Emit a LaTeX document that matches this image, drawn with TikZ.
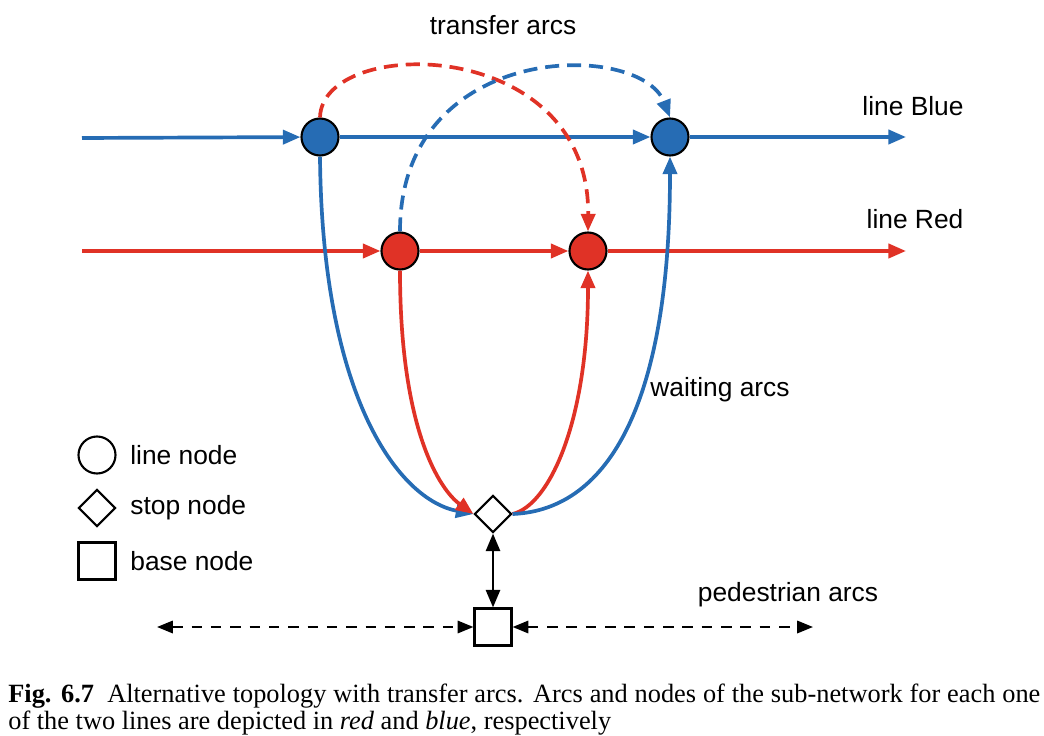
\documentclass[tikz,border=0pt]{standalone}
\usepackage{fontspec}
\setmainfont{Liberation Serif}
\setsansfont{Liberation Sans}
\usetikzlibrary{arrows.meta,shapes.geometric}

\definecolor{lineblue}{RGB}{38,108,180}
\definecolor{linered}{RGB}{224,50,38}

\tikzset{
  arc/.style={line width=2.1pt, -{Triangle[length=10pt,width=8pt]}},
  linenode/.style={circle, draw=black, line width=1.2pt, minimum size=37\pxu, inner sep=0pt},
  stopnode/.style={diamond, draw=black, line width=1.2pt, fill=white, minimum size=37\pxu, inner sep=0pt},
  basenode/.style={rectangle, draw=black, line width=1.2pt, fill=white, minimum size=37\pxu, inner sep=0pt},
  label/.style={font=\sffamily\fontsize{15}{18}\selectfont, inner sep=0pt}
}
\newcommand{\pxu}{*0.02cm}

\begin{document}
\begin{tikzpicture}[x=0.02cm, y=-0.02cm]
    \useasboundingbox (0,0) rectangle (1044,736);

    % line nodes
    \node[linenode, fill=lineblue] (b1) at (320,137) {};
    \node[linenode, fill=lineblue] (b2) at (670,137) {};
    \node[linenode, fill=linered] (r1) at (400,251) {};
    \node[linenode, fill=linered] (r2) at (588,251) {};
    \node[stopnode] (stop) at (493,514) {};
    \node[basenode] (base) at (493,627) {};

    \coordinate (bin) at (82,138);
    \coordinate (bout) at (906,137);
    \coordinate (rin) at (82,251);
    \coordinate (rout) at (906,251);
    \coordinate (pl) at (157,627);
    \coordinate (pr) at (813,627);

    % the two lines
    \draw[arc, lineblue] (bin) -- (b1);
    \draw[arc, lineblue] (b1) -- (b2);
    \draw[arc, lineblue] (b2) -- (bout);
    \draw[arc, linered] (rin) -- (r1);
    \draw[arc, linered] (r1) -- (r2);
    \draw[arc, linered] (r2) -- (rout);

    % transfer arcs
    \draw[arc, linered, dash pattern=on 8pt off 4.5pt]
      (b1.north) .. controls (322,35) and (590,35) .. (r2.north);
    \draw[arc, lineblue, dash pattern=on 8pt off 4.5pt]
      (r1.north) .. controls (400,40) and (640,40) .. (b2.north);

    % waiting arcs
    \draw[arc, lineblue] (b1.south) .. controls (322,400) and (400,500) .. (stop.west);
    \draw[arc, linered] (r1.south) .. controls (400,430) and (440,490) .. (stop.west);
    \draw[arc, linered] (stop.east) .. controls (550,505) and (588,420) .. (r2.south);
    \draw[arc, lineblue] (stop.east) .. controls (610,510) and (670,400) .. (b2.south);

    % pedestrian arcs
    \draw[line width=1.5pt, {Triangle[length=10pt,width=8pt]}-{Triangle[length=10pt,width=8pt]}]
      (stop.south) -- (base.north);
    \draw[line width=1.3pt, dash pattern=on 6pt off 5pt,
      {Triangle[length=9pt,width=7pt]}-{Triangle[length=9pt,width=7pt]}] (pl) -- (base.west);
    \draw[line width=1.3pt, dash pattern=on 6pt off 5pt,
      {Triangle[length=9pt,width=7pt]}-{Triangle[length=9pt,width=7pt]}] (base.east) -- (pr);

    % labels
    \node[label] (ttransfer) at (503,25) {transfer arcs};
    \node[label] (tblue) at (913,106) {line Blue};
    \node[label] (tred) at (915,219) {line Red};
    \node[label] (twait) at (720,390) {waiting arcs};
    \node[label] (tped) at (788,595) {pedestrian arcs};

    % legend
    \node[linenode] (lgline) at (97,455) {};
    \node[stopnode] (lgstop) at (97,508) {};
    \node[basenode] (lgbase) at (97,561) {};
    \node[label, anchor=west] at (130,455) {line node};
    \node[label, anchor=west] at (130,508) {stop node};
    \node[label, anchor=west] at (130,561) {base node};

    % caption
    \node[anchor=north west, inner sep=0pt, text width=1032\pxu, align=justify,
      font=\fontsize{15}{15.4}\selectfont] (caption) at (8,684)
      {\textbf{Fig. 6.7}\enspace Alternative topology with transfer arcs. Arcs and nodes of the sub-network for each one of the two lines are depicted in \textit{red} and \textit{blue}, respectively};
\end{tikzpicture}
\end{document}
